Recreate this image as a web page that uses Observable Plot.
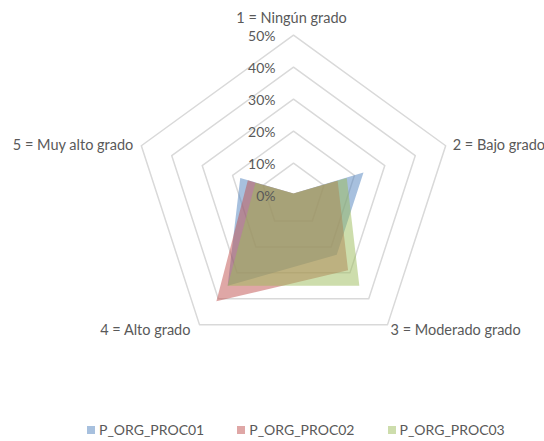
<!DOCTYPE html>
<html>
<head>
<meta charset="utf-8">
<script src="https://cdn.jsdelivr.net/npm/d3@7"></script>
<script src="https://cdn.jsdelivr.net/npm/@observablehq/plot@0.6"></script>
<style>
  html, body { margin: 0; padding: 0; background: #fff; }
  #chart { width: 544px; height: 441px; overflow: hidden; font-family: Lato, "Liberation Sans", sans-serif; color: #595959; }
  .legend { display: flex; align-items: center; padding-left: 87px; padding-top: 16px; font-size: 14px; line-height: 17px; }
  .legend .item { display: flex; align-items: center; margin-right: 33px; }
  .legend .sw { width: 8px; height: 8px; margin-right: 4px; }
</style>
</head>
<body>
<div id="chart"></div>
<script>
const categories = ["1 = Ningún grado", "2 = Bajo grado", "3 = Moderado grado", "4 = Alto grado", "5 = Muy alto grado"];
const seriesNames = ["P_ORG_PROC01", "P_ORG_PROC02", "P_ORG_PROC03"];
const P_ORG_PROC01 = [0.5, 23, 23, 35, 17.5];
const P_ORG_PROC02 = [0.5, 14.5, 29, 41, 15];
const P_ORG_PROC03 = [0.5, 17.5, 35, 35, 12.5];
const gridLevels = [10, 20, 30, 40, 50];
const tickLevels = [0, 10, 20, 30, 40, 50];
const tickLabels = ["0%", "10%", "20%", "30%", "40%", "50%"];
const colors = ["#4F81BD", "#C0504D", "#9BBB59"];

const W = 544, H = 405, k = 3.2, cx = 293, cy = 194.7;
const n = categories.length;
const ang = i => (i * 2 * Math.PI) / n;
const px = (i, r) => r * Math.sin(ang(i));
const py = (i, r) => r * Math.cos(ang(i));

const gridPts = [];
for (const L of gridLevels) for (let i = 0; i < n; i++) gridPts.push({level: L, x: px(i, L), y: py(i, L)});

const allSeries = [P_ORG_PROC01, P_ORG_PROC02, P_ORG_PROC03];
const seriesPts = [];
allSeries.forEach((vals, s) => vals.forEach((v, i) => seriesPts.push({series: seriesNames[s], x: px(i, v), y: py(i, v)})));

const ticks = tickLevels.map((L, j) => ({x: 0, y: L, label: tickLabels[j]}));
const outer = gridLevels[gridLevels.length - 1];
const catPts = categories.map((c, i) => ({i, label: c, x: px(i, outer), y: py(i, outer)}));

const ff = "Lato, 'Liberation Sans', sans-serif";
const catFont = {fontFamily: ff, fontSize: 14.5, fill: "#595959"};
const tickFont = {fontFamily: ff, fontSize: 14, fill: "#595959"};

const plot = Plot.plot({
  width: W, height: H, margin: 0,
  style: {fontFamily: ff, background: "#fff", overflow: "visible"},
  x: {domain: [-cx / k, (W - cx) / k], range: [0, W], axis: null},
  y: {domain: [-(H - cy) / k, cy / k], range: [H, 0], axis: null},
  color: {domain: seriesNames, range: colors},
  marks: [
    Plot.line(gridPts, {x: "x", y: "y", z: "level", curve: "linear-closed", stroke: "#d9d9d9", strokeWidth: 1.5}),
    Plot.line(seriesPts, {x: "x", y: "y", z: "series", fill: "series", fillOpacity: 0.5, stroke: "none", curve: "linear-closed"}),
    Plot.text(ticks, {x: "x", y: "y", text: "label", textAnchor: "end", dx: -18, dy: 1.5, ...tickFont}),
    Plot.text(catPts.filter(d => d.i === 0), {x: "x", y: "y", text: "label", textAnchor: "middle", dx: -2, dy: -17, ...catFont}),
    Plot.text(catPts.filter(d => d.i === 1), {x: "x", y: "y", text: "label", textAnchor: "start", dx: 7, dy: 0, ...catFont}),
    Plot.text(catPts.filter(d => d.i === 2), {x: "x", y: "y", text: "label", textAnchor: "start", dx: 3, dy: 6, ...catFont}),
    Plot.text(catPts.filter(d => d.i === 3), {x: "x", y: "y", text: "label", textAnchor: "end", dx: -9, dy: 6, ...catFont}),
    Plot.text(catPts.filter(d => d.i === 4), {x: "x", y: "y", text: "label", textAnchor: "end", dx: -8, dy: 0, ...catFont})
  ]
});

const root = document.getElementById("chart");
root.appendChild(plot);
const legend = document.createElement("div");
legend.className = "legend";
seriesNames.forEach((name, s) => {
  const item = document.createElement("div");
  item.className = "item";
  const sw = document.createElement("span");
  sw.className = "sw";
  sw.style.background = colors[s];
  sw.style.opacity = 0.5;
  const t = document.createElement("span");
  t.textContent = name;
  item.appendChild(sw); item.appendChild(t);
  legend.appendChild(item);
});
root.appendChild(legend);
</script>
</body>
</html>
